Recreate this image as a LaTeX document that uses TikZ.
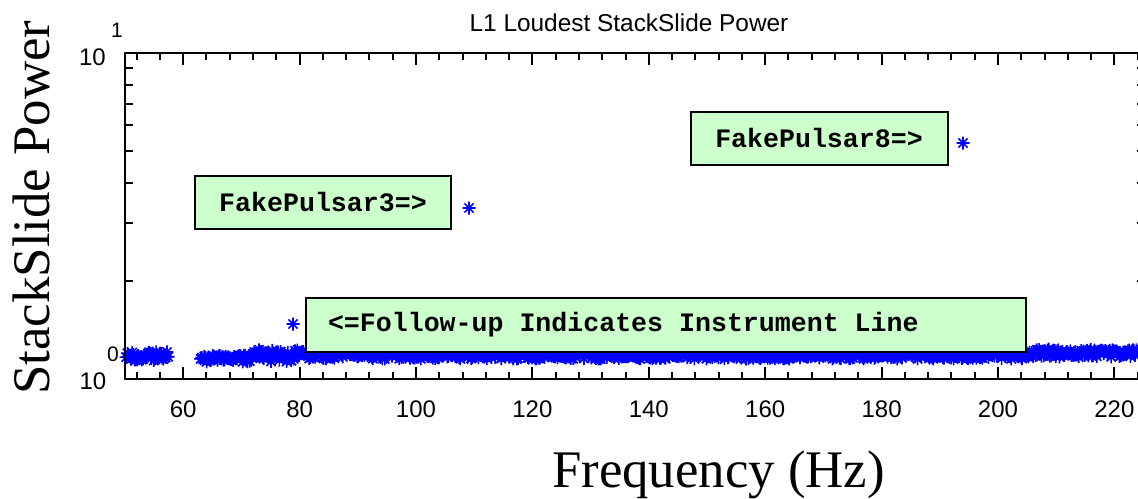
\documentclass[tikz,border=0pt]{standalone}
\usepackage{fontspec}
\setmainfont{Liberation Serif}
\setsansfont{Liberation Sans}
\setmonofont{Liberation Mono}
\usetikzlibrary{positioning}
\definecolor{cBox}{RGB}{204,255,204}
\definecolor{cData}{RGB}{0,0,255}
\newcommand{\monosp}{\phantom{x}}
\tikzset{
	note/.style     ={rectangle, draw=black, line width=1pt, fill=cBox, font=\ttfamily\bfseries\fontsize{13.3}{15}\selectfont, minimum height=26.5pt, inner sep=0pt},
	ticklab/.style  ={font=\sffamily\fontsize{12}{14}\selectfont, anchor=base},
	explab/.style   ={font=\sffamily\fontsize{10.5}{12}\selectfont, anchor=base},
	axlab/.style    ={font=\rmfamily\fontsize{26.4}{30}\selectfont, anchor=base},
	axframe/.style  ={line width=1pt},
	tck/.style      ={line width=1pt},
	% matlab-like '*' marker
	asterisk/.pic   ={\draw[cData, line width=0.8pt] (-6.5,0) -- (6.5,0) (0,-6.5) -- (0,6.5) (-4.6,-4.6) -- (4.6,4.6) (-4.6,4.6) -- (4.6,-4.6);},
}

\begin{document}
\begin{tikzpicture}[x=0.5pt, y=-0.5pt]
	\useasboundingbox (0,0) rectangle (1138,498);
	% noise floor band
	\pgfmathsetseed{42}
	\foreach \fa/\fb/\yc/\hw in {50.2/57.5/356/4.5, 63/72/358.5/3.5, 72/80/355.5/6, 80/205/355/4, 205/225/353/4} {
		\pgfmathsetmacro\xa{125+(\fa-50)*5.82}
		\pgfmathsetmacro\xb{125+(\fb-50)*5.82}
		\fill[cData] (\xa,\yc-\hw) rectangle (\xb,\yc+\hw);
		\pgfmathtruncatemacro\nn{(\xb-\xa)/1.2}
		\foreach \i in {0,...,\nn} {
			\pgfmathsetmacro\px{\xa+\i*1.2}
			\pgfmathsetmacro\py{\yc+rand*\hw}
			\pic at (\px,\py) {asterisk};
		}
	}
	% outliers
	\pic at (293,324) {asterisk};
	\pic at (469,208) {asterisk};
	\pic at (963,143) {asterisk};
	% axes
	\draw[axframe] (125,53) rectangle (1145,379);
	\foreach \f in {52,56,...,224} {
		\pgfmathsetmacro\xx{125+(\f-50)*5.82}
		\draw[tck] (\xx,379) -- (\xx,372);
		\draw[tck] (\xx,53) -- (\xx,60);
	}
	\foreach \f in {60,80,...,220} {
		\pgfmathsetmacro\xx{125+(\f-50)*5.82}
		\draw[tck] (\xx,379) -- (\xx,367);
		\draw[tck] (\xx,53) -- (\xx,65);
		\node[ticklab] (xt\f) at (\xx,417) {\f};
	}
	\foreach \v in {2,...,9} {
		\pgfmathsetmacro\yy{379-326*log10(\v)}
		\draw[tck] (125,\yy) -- (133,\yy);
		\draw[tck] (1145,\yy) -- (1137,\yy);
	}
	\node[ticklab] (ytop) at (92.5,65) {10};
	\node[explab] (ytopexp) at (117,37) {1};
	\node[ticklab] (ybot) at (93,389) {10};
	\node[explab] (ybotexp) at (113,361) {0};
	% labels
	\node[font=\sffamily\fontsize{12.2}{14}\selectfont, anchor=base] (title) at (629,32) {L1 Loudest StackSlide Power};
	\node[axlab] (xlab) at (718.5,487) {Frequency (Hz)};
	\node[axlab, rotate=90] (ylab) at (49,207.5) {StackSlide Power};
	% annotation boxes
	\node[note, minimum width=128pt] (box3) at (323,202.5) {FakePulsar3=>};
	\node[note, minimum width=128.5pt] (box8) at (819,138) {FakePulsar8=>};
	\node[note, text width=338pt, align=left, inner xsep=11pt, minimum height=27pt] (boxF) at (666,324.5) {<=Follow-up\monosp Indicates\monosp Instrument\monosp Line};
\end{tikzpicture}
\end{document}
